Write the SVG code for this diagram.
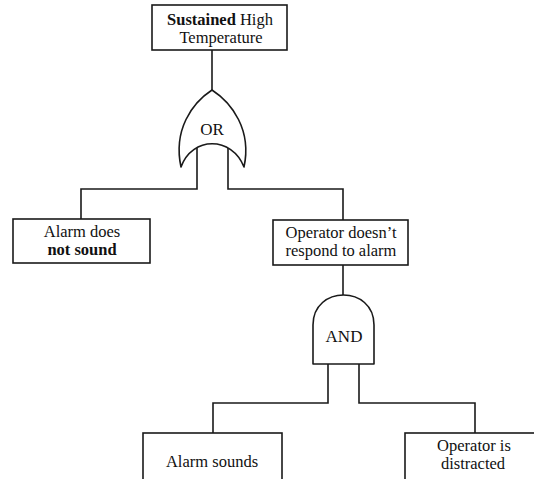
<svg xmlns="http://www.w3.org/2000/svg" width="534" height="479" viewBox="0 0 534 479">
  <style>
    .box { fill: #fff; stroke: #1a1a1a; stroke-width: 1.6; }
    .gate { fill: #fff; stroke: #1a1a1a; stroke-width: 1.6; stroke-linejoin: round; }
    .wire { fill: none; stroke: #1a1a1a; stroke-width: 1.6; }
    text { font-family: "Liberation Serif", "Times New Roman", serif; font-size: 16.5px; fill: #111; text-anchor: middle; }
    .b { font-weight: bold; }
    .gl { font-size: 17px; }
  </style>
  <rect width="534" height="479" fill="#fff"/>

  <g id="connectors">
    <path class="wire" d="M212 50 V90"/>
    <path class="wire" d="M197 140 V189 H81 V219"/>
    <path class="wire" d="M228 140 V189 H343 V220"/>
    <path class="wire" d="M343 265 V295"/>
    <path class="wire" d="M328 364 V403 H213 V433"/>
    <path class="wire" d="M359 364 V403 H475 V433"/>
  </g>

  <g id="top-event">
    <rect class="box" x="152" y="5" width="135" height="45"/>
    <text x="220" y="25"><tspan class="b">Sustained</tspan> High<tspan x="221" y="43">Temperature</tspan></text>
  </g>

  <g id="or-gate">
    <path class="gate" d="M212 90 C232 103 252 130 244 167 C232 136 192 136 181 167 C173 130 192 103 212 90 Z"/>
    <text class="gl" x="212" y="135">OR</text>
  </g>

  <g id="alarm-not-sound">
    <rect class="box" x="13" y="219" width="137" height="44"/>
    <text x="82" y="237">Alarm does<tspan class="b" x="82" y="255">not sound</tspan></text>
  </g>

  <g id="operator-no-response">
    <rect class="box" x="273" y="220" width="135" height="45"/>
    <text x="341" y="238">Operator doesn’t<tspan x="341" y="256">respond to alarm</tspan></text>
  </g>

  <g id="and-gate">
    <path class="gate" d="M313 364 V325 C313 285 374 285 374 325 V364 Z"/>
    <text class="gl" x="344" y="342">AND</text>
  </g>

  <g id="alarm-sounds">
    <rect class="box" x="143" y="433" width="139" height="52"/>
    <text x="212" y="467">Alarm sounds</text>
  </g>

  <g id="operator-distracted">
    <rect class="box" x="405" y="433" width="135" height="52"/>
    <text x="474" y="451">Operator is<tspan x="473" y="469">distracted</tspan></text>
  </g>
</svg>
